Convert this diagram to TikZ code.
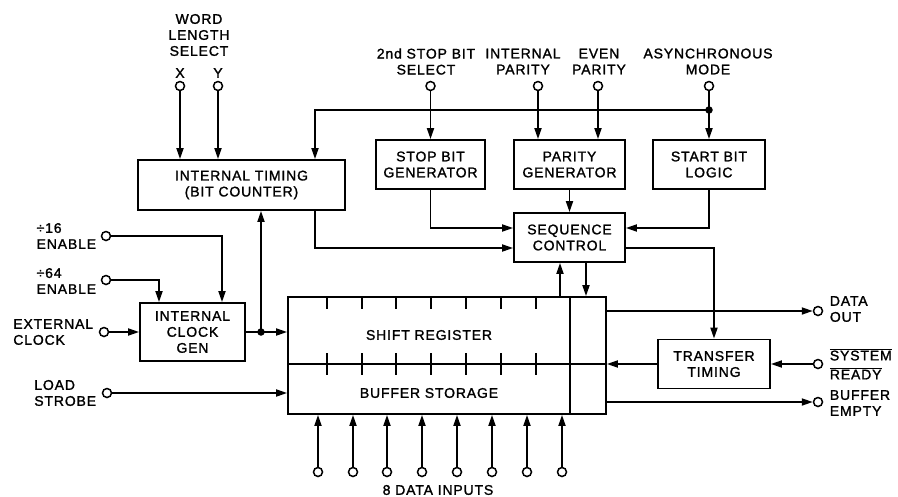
\documentclass[tikz,border=0pt]{standalone}
\usepackage{fontspec}
\setmainfont[LetterSpace=6,FakeBold=1.4]{Liberation Sans}
\usetikzlibrary{arrows.meta}
\begin{document}
\begin{tikzpicture}[x=1pt,y=-1pt, line width=1.8pt,
  every node/.style={font=\fontsize{14}{16}\selectfont, inner sep=0pt},
  blk/.style={draw, align=center},
  term/.style={circle, draw, fill=white, minimum size=9pt, line width=1.5pt},
  jdot/.style={circle, fill, minimum size=7.5pt},
  arr/.style={-{Triangle[length=11pt,width=7pt]}},
  lbl/.style={align=center}]
\path[use as bounding box, fill=white] (0,0) rectangle (898,496);

% blocks
\node[blk, minimum width=207pt, minimum height=50pt] (timing) at (241.5,185) {INTERNAL TIMING\\(BIT COUNTER)};
\node[blk, minimum width=109pt, minimum height=49pt] (stopgen) at (430.5,164.5) {STOP BIT\\GENERATOR};
\node[blk, minimum width=111pt, minimum height=49pt] (pargen) at (569.5,164.5) {PARITY\\GENERATOR};
\node[blk, minimum width=112pt, minimum height=49pt] (startb) at (709,164.5) {START BIT\\LOGIC};
\node[blk, minimum width=111pt, minimum height=49pt] (seq) at (569.5,237.5) {SEQUENCE\\CONTROL};
\node[blk, minimum width=105pt, minimum height=58pt] (clk) at (192.5,332) {INTERNAL\\CLOCK\\GEN};
\node[draw, minimum width=318pt, minimum height=117pt] (sr) at (447,355.5) {};
\node[blk, minimum width=112pt, minimum height=49pt] (xfer) at (714,364) {TRANSFER\\TIMING};

% register internals
\node (srlabel) at (429,335) {SHIFT REGISTER};
\node (bslabel) at (429,393) {BUFFER STORAGE};
\draw (sr.west |- 0,364) -- (sr.east |- 0,364);
\draw (sr.north -| 570,0) -- (sr.south -| 570,0);
\foreach \x in {327,362,396,431,466,501,536} {
  \draw (\x,297) -- (\x,309);
  \draw (\x,353) -- (\x,375);
}

% top terminals
\node[term] (tX) at (180,86) {};
\node[term] (tY) at (218,86) {};
\node (lX) at (180,73) {X};
\node (lY) at (218,73) {Y};
\node[lbl] (lwl) at (199,35) {WORD\\LENGTH\\SELECT};
\node[term] (t2stop) at (430.5,86) {};
\node[term] (tintp) at (538,86) {};
\node[term] (teven) at (598,86) {};
\node[term] (tasync) at (709,86) {};
\node[lbl] (l2stop) at (426,61.5) {2nd STOP BIT\\SELECT};
\node[lbl] (lintp) at (523,61.5) {INTERNAL\\PARITY};
\node[lbl] (leven) at (599,61.5) {EVEN\\PARITY};
\node[lbl] (lasync) at (708,61.5) {ASYNCHRONOUS\\MODE};

\draw[arr] (tX) -- (tX |- timing.north);
\draw[arr] (tY) -- (tY |- timing.north);
\draw[arr] (t2stop) -- (stopgen.north);
\draw[arr] (tintp) -- (tintp |- pargen.north);
\draw[arr] (teven) -- (teven |- pargen.north);

% bus from asynchronous mode
\coordinate (busR) at (709,110);
\coordinate (busL) at (315,110);
\draw (tasync) -- (busR);
\draw[arr] (busR) -- (startb.north);
\draw[arr] (busR) -- (busL) -- (busL |- timing.north);
\node[jdot] (busdot) at (busR) {};

% into sequence control
\draw[arr] (stopgen.south) |- (seq.west |- 0,228);
\draw[arr] (pargen.south) -- (seq.north);
\draw[arr] (startb.south) |- (seq.east |- 0,228);
\draw[arr] (timing.south -| busL) |- (seq.west |- 0,248);

% clock
\node[term] (t16) at (106,236) {};
\node[term] (t64) at (106,280) {};
\node[term] (text) at (104,332) {};
\node[term] (tload) at (107,393) {};
\node[align=left, anchor=east] (l16) at (97,236) {÷16\\ENABLE};
\node[align=left, anchor=east] (l64) at (97,281) {÷64\\ENABLE};
\node[align=left, anchor=east] (lext) at (94,332) {EXTERNAL\\CLOCK};
\node[align=left, anchor=east] (lload) at (97,393) {LOAD\\STROBE};

\draw[arr] (t16) -| (clk.north -| 222,0);
\draw[arr] (t64) -| (clk.north -| 159,0);
\draw[arr] (text) -- (clk.west);
\coordinate (cdot) at (261,332);
\draw[arr] (clk.east) -- (sr.west |- clk.east);
\draw[arr] (cdot) -- (cdot |- timing.south);
\node[jdot] (cdotn) at (cdot) {};
\draw[arr] (tload) -- (sr.west |- tload);

% sequence control <-> register
\draw[arr] (sr.north -| 560,0) -- (seq.south -| 560,0);
\draw[arr] (seq.south -| 586,0) -- (sr.north -| 586,0);
\draw[arr] (seq.east |- 0,248) -| (xfer.north);

% right side
\node[term] (tdout) at (818,311) {};
\node[term] (tsys) at (818,364) {};
\node[term] (tbuf) at (818,402) {};
\node[align=left, anchor=west] (ldout) at (829,309) {DATA\\OUT};
\node[align=left, anchor=west] (lsys) at (829,364) {$\overline{\mbox{SYSTEM}}$\\[3pt]$\overline{\mbox{READY}}$};
\node[align=left, anchor=west] (lbuf) at (829,403) {BUFFER\\EMPTY};
\draw[arr] (sr.east |- tdout) -- (tdout);
\draw[arr] (tsys) -- (xfer.east);
\draw[arr] (xfer.west) -- (sr.east |- xfer.west);
\draw[arr] (sr.east |- tbuf) -- (tbuf);

% data inputs
\foreach \x [count=\i] in {318,353,387,422,457,492,527,562} {
  \node[term] (d\i) at (\x,472) {};
  \draw[arr] (d\i) -- (d\i |- sr.south);
}
\node (ldata) at (438,490) {8 DATA INPUTS};
\end{tikzpicture}
\end{document}
